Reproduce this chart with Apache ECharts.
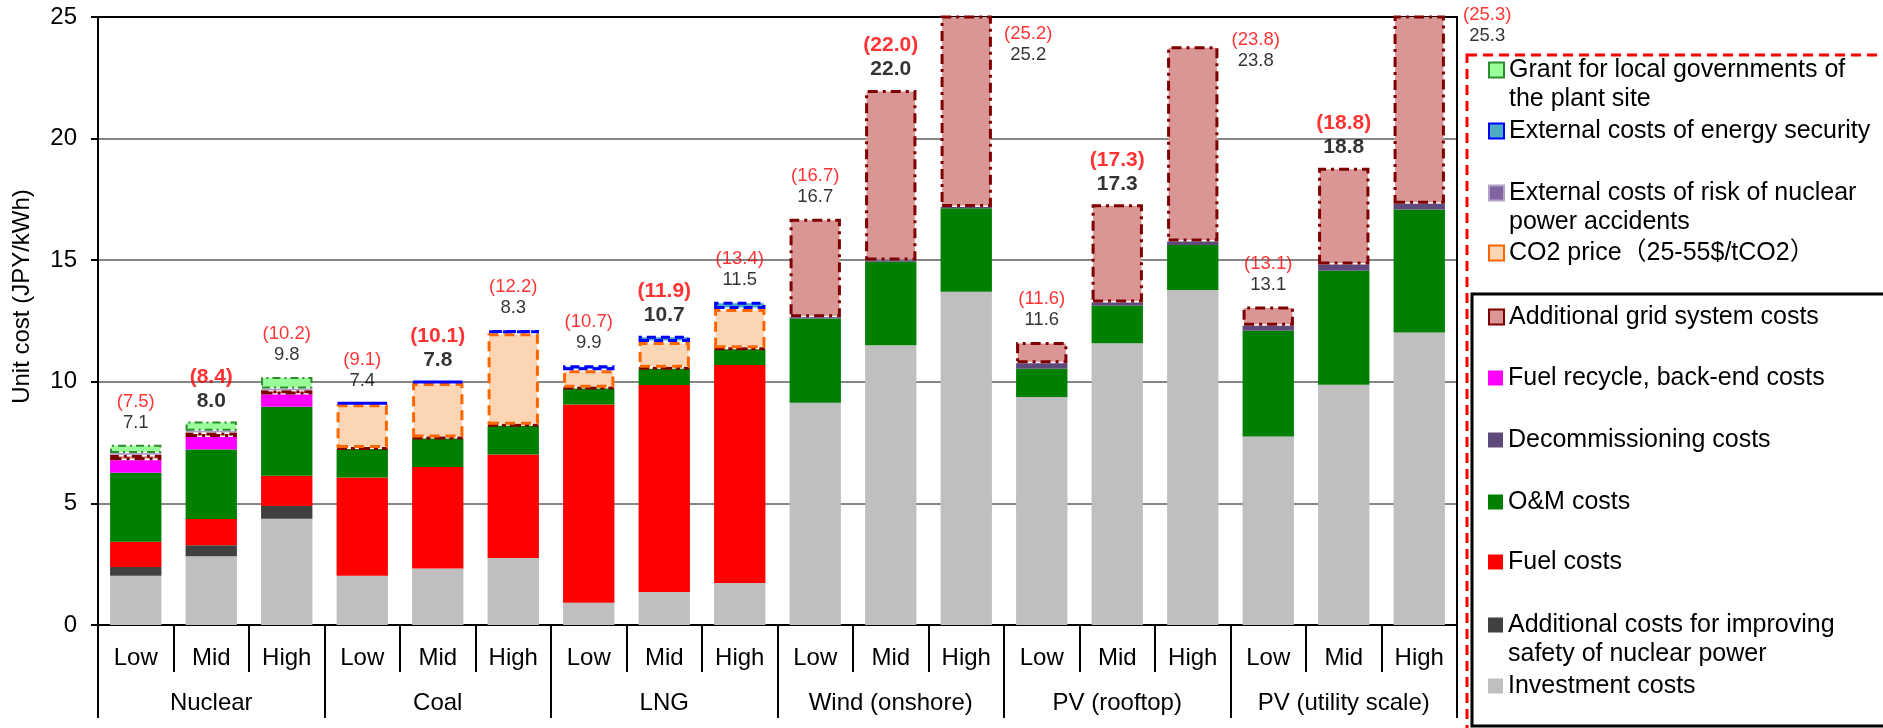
<!DOCTYPE html>
<html><head><meta charset="utf-8">
<script src="https://cdn.jsdelivr.net/npm/echarts@6/dist/echarts.min.js"></script>
<style>html,body{margin:0;padding:0;background:#fff}#c{width:1883px;height:728px}</style>
</head><body><div id="c"></div>
<script>
// ---------- data ----------
const scenarios = ['Low','Mid','High','Low','Mid','High','Low','Mid','High','Low','Mid','High','Low','Mid','High','Low','Mid','High'];
const groups = ['Nuclear','Coal','LNG','Wind (onshore)','PV (rooftop)','PV (utility scale)'];
const yTickMin = 0, yTickMax = 25, yTickStep = 5;

const investment      = [2.03, 2.83, 4.37, 2.03, 2.32, 2.76, 0.92, 1.36, 1.73, 9.14, 11.50, 13.70, 9.37, 11.59, 13.77, 7.75, 9.88, 12.03];
const safety          = [0.36, 0.45, 0.52, 0, 0, 0, 0, 0, 0, 0, 0, 0, 0, 0, 0, 0, 0, 0];
const fuel            = [1.03, 1.08, 1.25, 4.03, 4.18, 4.25, 8.15, 8.51, 8.96, 0, 0, 0, 0, 0, 0, 0, 0, 0];
const om              = [2.84, 2.86, 2.83, 1.18, 1.17, 1.18, 0.65, 0.67, 0.65, 3.46, 3.44, 3.44, 1.17, 1.54, 1.86, 4.35, 4.69, 5.05];
const decommissioning = [0, 0, 0, 0, 0, 0, 0, 0, 0, 0.05, 0.05, 0.05, 0.22, 0.13, 0.14, 0.20, 0.25, 0.24];
const recycle         = [0.51, 0.51, 0.51, 0, 0, 0, 0, 0, 0, 0, 0, 0, 0, 0, 0, 0, 0, 0];
const gridCost        = [0.23, 0.19, 0.17, 0.04, 0.04, 0.04, 0.04, 0.04, 0.04, 4.05, 7.01, 8.01, 0.88, 4.04, 8.03, 0.80, 3.98, 7.98];
const co2             = [0, 0, 0, 1.80, 2.24, 3.77, 0.71, 1.06, 1.61, 0, 0, 0, 0, 0, 0, 0, 0, 0];
const accident        = [0.07, 0.07, 0.07, 0, 0, 0, 0, 0, 0, 0, 0, 0, 0, 0, 0, 0, 0, 0];
const security        = [0, 0, 0, 0.07, 0.08, 0.13, 0.21, 0.25, 0.30, 0, 0, 0, 0, 0, 0, 0, 0, 0];
const grant           = [0.34, 0.38, 0.48, 0, 0, 0, 0, 0, 0, 0, 0, 0, 0, 0, 0, 0, 0, 0];

const totalWithPolicy = [7.5, 8.4, 10.2, 9.1, 10.1, 12.2, 10.7, 11.9, 13.4, 16.7, 22.0, 25.2, 11.6, 17.3, 23.8, 13.1, 18.8, 25.3];
const totalBase       = [7.1, 8.0, 9.8, 7.4, 7.8, 8.3, 9.9, 10.7, 11.5, 16.7, 22.0, 25.2, 11.6, 17.3, 23.8, 13.1, 18.8, 25.3];

// ---------- styles ----------
const FONT = "'Liberation Sans', Arial, 'Noto Sans CJK JP', sans-serif";
const seriesDefs = [
  { name: 'Investment costs', data: investment, style: { color: '#BFBFBF' } },
  { name: 'Additional costs for improving safety of nuclear power', data: safety, style: { color: '#404040' } },
  { name: 'Fuel costs', data: fuel, style: { color: '#FF0000' } },
  { name: 'O&M costs', data: om, style: { color: '#008000' } },
  { name: 'Decommissioning costs', data: decommissioning, style: { color: '#604A7B' } },
  { name: 'Fuel recycle, back-end costs', data: recycle, style: { color: '#FF00FF' } },
  { name: 'Additional grid system costs', data: gridCost, style: { color: '#D99694', borderColor: '#7F0000', borderWidth: 3, borderType: [10, 5, 3, 5] } },
  { name: 'CO2 price（25-55$/tCO2）', data: co2, style: { color: '#FCD5B5', borderColor: '#FF6600', borderWidth: 3, borderType: [10, 6] } },
  { name: 'External costs of risk of nuclear power accidents', data: accident, style: { color: '#8064A2', borderColor: '#B3A2C7', borderWidth: 1 } },
  { name: 'External costs of energy security', data: security, style: { color: '#4BACC6', borderColor: '#0000FF', borderWidth: 3, borderType: [9, 5] } },
  { name: 'Grant for local governments of the plant site', data: grant, style: { color: '#99FF99', borderColor: '#2E8B2E', borderWidth: 2, borderType: [8, 4, 2, 4] } }
];

const legendText = {
  'Grant for local governments of the plant site': ' \nGrant for local governments of\nthe plant site',
  'External costs of risk of nuclear power accidents': ' \nExternal costs of risk of nuclear\npower accidents',
  'Additional costs for improving safety of nuclear power': ' \nAdditional costs for improving\nsafety of nuclear power'
};
// legend rows: [series name, icon centre y]
const legendRows = [
  ['Grant for local governments of the plant site', 70],
  ['External costs of energy security', 131],
  ['External costs of risk of nuclear power accidents', 193],
  ['CO2 price（25-55$/tCO2）', 253],
  ['Additional grid system costs', 317],
  ['Fuel recycle, back-end costs', 378],
  ['Decommissioning costs', 440],
  ['O&M costs', 502],
  ['Fuel costs', 562],
  ['Additional costs for improving safety of nuclear power', 625],
  ['Investment costs', 686]
];
const LH = 29;
const legends = legendRows.map(([name, cy]) => {
  const two = legendText[name] !== undefined;
  return {
    show: true, orient: 'vertical', left: 1488, top: two ? cy - 1.5 * LH : cy - LH / 2,
    padding: 0, itemWidth: 15, itemHeight: 15, icon: 'rect', selectedMode: false,
    data: [name],
    formatter: n => legendText[n] || n,
    textStyle: { fontFamily: FONT, fontSize: 25, color: '#000', lineHeight: LH }
  };
});

const bars = seriesDefs.map(d => ({
  name: d.name, type: 'bar', stack: 'total', barWidth: '68%',
  xAxisIndex: 0, yAxisIndex: 0,
  itemStyle: d.style,
  data: d.data.map(v => (v > 0 ? v : '-'))
}));

const totals = scenarios.map((_, i) => seriesDefs.reduce((s, d) => s + d.data[i], 0));
// labels for the three tallest bars are placed beside the bar
const sideOffset = { 11: [62, 65], 14: [63, 37], 17: [68, 48] };
const labelData = totals.map((t, i) => {
  const mid = i % 3 === 1;
  const lab = {
    show: true, position: 'top', distance: mid ? 8 : 11,
    formatter: (mid ? '{rb|(' : '{r|(') + totalWithPolicy[i].toFixed(1) + ')}\n' + (mid ? '{bb|' : '{b|') + totalBase[i].toFixed(1) + '}',
    rich: {
      r: { color: '#FF0000', fontSize: 18.5, fontFamily: FONT, lineHeight: 21 },
      b: { color: '#000', fontSize: 18.5, fontFamily: FONT, lineHeight: 21 },
      rb: { color: '#FF0000', fontSize: 21, fontWeight: 'bold', fontFamily: FONT, lineHeight: 24 },
      bb: { color: '#000', fontSize: 21, fontWeight: 'bold', fontFamily: FONT, lineHeight: 24 }
    }
  };
  if (sideOffset[i]) lab.offset = sideOffset[i];
  return { value: [i, t], label: lab };
});

const option = {
  animation: false,
  backgroundColor: '#fff',
  textStyle: { fontFamily: FONT },
  legend: legends,
  grid: { left: 98, top: 17, width: 1359, height: 608, containLabel: false },
  xAxis: [
    { type: 'category', data: scenarios, position: 'bottom', boundaryGap: true,
      axisLine: { lineStyle: { color: '#000', width: 2 } },
      axisTick: { show: true, interval: 0, length: 47, lineStyle: { color: '#000', width: 2 } },
      axisLabel: { interval: 0, margin: 21, fontSize: 24, lineHeight: 24, color: '#000', fontFamily: FONT },
      splitLine: { show: false } },
    { type: 'category', data: groups, position: 'bottom', boundaryGap: true,
      axisLine: { lineStyle: { color: '#000', width: 2 } },
      axisTick: { show: true, interval: 0, length: 93, lineStyle: { color: '#000', width: 2 } },
      axisLabel: { interval: 0, margin: 66, fontSize: 24, lineHeight: 24, color: '#000', fontFamily: FONT },
      splitLine: { show: false } },
    { type: 'category', data: scenarios, position: 'top',
      axisLine: { lineStyle: { color: '#000', width: 2 } },
      axisTick: { show: false }, axisLabel: { show: false }, splitLine: { show: false } }
  ],
  yAxis: [
    { type: 'value', min: yTickMin, max: yTickMax, interval: yTickStep, position: 'left',
      name: 'Unit cost (JPY/kWh)', nameLocation: 'middle', nameGap: 64,
      nameTextStyle: { fontSize: 24, color: '#000', fontFamily: FONT, padding: [0, 0, 0, 49] },
      axisLine: { show: true, lineStyle: { color: '#000', width: 2 } },
      axisTick: { show: true, length: 7, lineStyle: { color: '#000', width: 2 } },
      axisLabel: { margin: 21, fontSize: 24, color: '#000', fontFamily: FONT },
      splitLine: { show: true, showMinLine: false, showMaxLine: false, lineStyle: { color: '#868686', width: 2 } } },
    { type: 'value', min: yTickMin, max: yTickMax, interval: yTickStep, position: 'right',
      axisLine: { show: true, lineStyle: { color: '#000', width: 2 } },
      axisTick: { show: false }, axisLabel: { show: false }, splitLine: { show: false } }
  ],
  series: bars.concat([{
    name: 'labels', type: 'scatter', xAxisIndex: 0, yAxisIndex: 0, clip: false, silent: true,
    symbolSize: 1, itemStyle: { color: 'rgba(0,0,0,0)' }, z: 10,
    data: labelData
  }]),
  graphic: [
    { type: 'rect', shape: { x: 1467, y: 55, width: 600, height: 700 }, style: { fill: 'none', stroke: '#FF0000', lineWidth: 3, lineDash: [10, 6] }, silent: true },
    { type: 'rect', shape: { x: 1472, y: 294, width: 600, height: 432 }, style: { fill: 'none', stroke: '#000', lineWidth: 3 }, silent: true }
  ]
};
const chart = echarts.init(document.getElementById('c'), null, { renderer: 'canvas' });
chart.setOption(option);
</script>
</body></html>
